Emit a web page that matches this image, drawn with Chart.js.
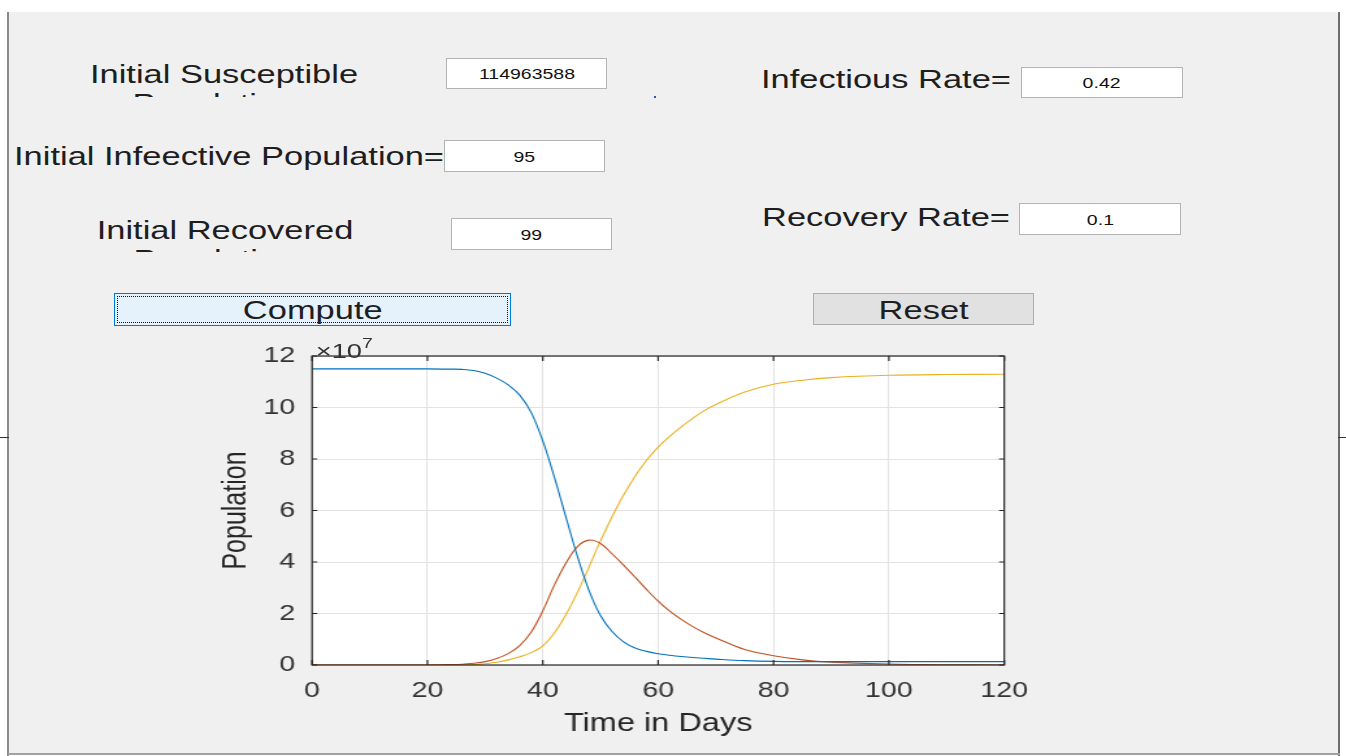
<!DOCTYPE html>
<html>
<head>
<meta charset="utf-8">
<script src="https://cdn.jsdelivr.net/npm/chart.js@4.4.1/dist/chart.umd.min.js"></script>
<style>
html,body{margin:0;padding:0;width:1346px;height:756px;overflow:hidden;background:#fff;font-family:"Liberation Sans",Arial,sans-serif;}
#panel{position:absolute;left:8px;top:12px;width:1331px;height:741px;background:#f0f0f0;}
.ln{position:absolute;background:#808080;}
.lbl{position:absolute;overflow:hidden;color:#1e1e1e;font-size:26.5px;line-height:29px;white-space:nowrap;}
.lbl .t{position:absolute;top:0;left:50%;text-align:center;transform:translateX(-50%) scaleX(1.3);}
.box{position:absolute;box-sizing:border-box;background:#fff;border:1px solid #b4b4b4;display:flex;align-items:center;justify-content:center;font-size:15px;color:#111;}
.box span,.btn span{display:inline-block;transform:scaleX(1.3);}
.btn{position:absolute;box-sizing:border-box;display:flex;justify-content:center;align-items:flex-start;font-size:26.5px;line-height:29px;color:#1e1e1e;}
#cw{position:absolute;left:200px;top:328px;width:650px;height:420px;transform:scaleX(1.3);transform-origin:0 0;}
#expo{position:absolute;left:89px;top:6px;font-size:21px;line-height:21px;color:#333;white-space:nowrap;}
#expo sup{font-size:15px;position:relative;top:-2px;}
</style>
</head>
<body>
<div id="panel"></div>
<div class="ln" style="left:7px;top:12px;width:2px;height:744px;background:#8a8a8a"></div>
<div class="ln" style="left:1338px;top:12px;width:2px;height:744px;background:#6e6e6e"></div>
<div class="ln" style="left:8px;top:753px;width:1332px;height:2px;background:#a0a0a0"></div>
<div class="ln" style="left:0px;top:437px;width:9px;height:1px;background:#333"></div>
<div class="ln" style="left:1338px;top:437px;width:8px;height:1px;background:#333"></div>
<div class="ln" style="left:654px;top:96px;width:2px;height:2px;background:#3050c0"></div>

<div class="lbl" style="left:24px;top:60px;width:400px;height:37px"><div class="t">Initial Susceptible<br>Population=</div></div>
<div class="lbl" style="left:0px;top:142px;width:458px;height:34px"><div class="t">Initial Infeective Population=</div></div>
<div class="lbl" style="left:24px;top:216px;width:401px;height:36px"><div class="t">Initial Recovered<br>Population=</div></div>
<div class="lbl" style="left:735px;top:65px;width:301px;height:34px"><div class="t">Infectious Rate=</div></div>
<div class="lbl" style="left:735px;top:203px;width:301px;height:34px"><div class="t">Recovery Rate=</div></div>

<div class="box" style="left:446px;top:58px;width:161px;height:31px"><span>114963588</span></div>
<div class="box" style="left:444px;top:140px;width:161px;height:32px"><span>95</span></div>
<div class="box" style="left:451px;top:218px;width:161px;height:32px"><span>99</span></div>
<div class="box" style="left:1021px;top:67px;width:162px;height:31px"><span>0.42</span></div>
<div class="box" style="left:1019px;top:203px;width:162px;height:32px"><span>0.1</span></div>

<div class="btn" style="left:114px;top:293px;width:397px;height:33px;background:#e5f1fb;border:1px solid #0078d7;padding-top:2px">
  <div style="position:absolute;left:2px;top:2px;right:2px;bottom:2px;border:1px dotted #111"></div>
  <span>Compute</span></div>
<div class="btn" style="left:813px;top:293px;width:221px;height:32px;background:#e1e1e1;border:1px solid #adadad;padding-top:2px"><span>Reset</span></div>

<div id="cw"><canvas id="c"></canvas><div id="expo">×10<sup>7</sup></div></div>

<script>
// values in units of 10^7 people
const days = [0,10,20,24,26,28,30,32,34,36,38,40,42,44,46,48,50,52,54,56,58,60,62,64,66,68,70,75,80,85,90,100,110,120];
const susceptible = [11.50,11.50,11.50,11.49,11.48,11.44,11.33,11.14,10.88,10.48,9.80,8.70,7.30,5.75,4.22,2.90,1.92,1.30,0.90,0.66,0.53,0.44,0.38,0.33,0.29,0.26,0.23,0.17,0.14,0.13,0.13,0.13,0.13,0.13];
const infective = [0.00,0.00,0.00,0.015,0.03,0.07,0.13,0.25,0.44,0.75,1.28,2.10,3.10,3.95,4.60,4.85,4.72,4.32,3.88,3.41,2.93,2.48,2.09,1.77,1.49,1.25,1.05,0.60,0.36,0.20,0.11,0.04,0.01,0.00];
const recovered = [0.00,0.00,0.00,0.005,0.01,0.02,0.05,0.11,0.20,0.32,0.48,0.74,1.24,1.95,2.82,3.80,4.82,5.75,6.60,7.33,7.95,8.46,8.88,9.25,9.58,9.88,10.12,10.60,10.90,11.06,11.16,11.25,11.28,11.29];
const xTicks = {min:0, max:120, step:20};
const yTicks = {min:0, max:12, step:2};
const xTitle = 'Time in Days';
const yTitle = 'Population';

const pts = arr => days.map((d,i)=>({x:d, y:arr[i]}));

const boxPlugin = {
  id:'matlabBox',
  beforeDraw(chart){
    const {ctx, chartArea:a} = chart;
    ctx.save();
    ctx.fillStyle = '#ffffff';
    ctx.fillRect(a.left, a.top, a.right-a.left, a.bottom-a.top);
    ctx.restore();
  },
  afterDatasetsDraw(chart){
    const {ctx, chartArea:a, scales:{x,y}} = chart;
    ctx.save();
    ctx.strokeStyle = '#262626';
    ctx.lineWidth = 1.2;
    ctx.strokeRect(a.left, a.top, a.right-a.left, a.bottom-a.top);
    ctx.beginPath();
    x.ticks.forEach(t=>{
      const p = x.getPixelForValue(t.value);
      ctx.moveTo(p, a.bottom); ctx.lineTo(p, a.bottom-5);
      ctx.moveTo(p, a.top); ctx.lineTo(p, a.top+5);
    });
    y.ticks.forEach(t=>{
      const p = y.getPixelForValue(t.value);
      ctx.moveTo(a.left, p); ctx.lineTo(a.left+4, p);
      ctx.moveTo(a.right, p); ctx.lineTo(a.right-4, p);
    });
    ctx.stroke();
    ctx.restore();
  }
};

Chart.defaults.font.family = '"Liberation Sans", Arial, sans-serif';
new Chart(document.getElementById('c'), {
  type:'line',
  data:{datasets:[
    {label:'S', data:pts(susceptible), borderColor:'#0072BD', borderWidth:1.1},
    {label:'I', data:pts(infective), borderColor:'#C0501E', borderWidth:1.1},
    {label:'R', data:pts(recovered), borderColor:'#EDB120', borderWidth:1.1}
  ]},
  options:{
    responsive:true, maintainAspectRatio:false, animation:false,
    devicePixelRatio:1,
    layout:{padding:{top:28, right:30, left:0, bottom:0}},
    elements:{point:{radius:0}, line:{tension:0.35, fill:false}},
    plugins:{legend:{display:false}, tooltip:{enabled:false}},
    scales:{
      x:{type:'linear', min:xTicks.min, max:xTicks.max,
         ticks:{stepSize:xTicks.step, padding:13, color:'#333', font:{size:22}},
         grid:{color:'#e3e3e3', drawTicks:false}, border:{display:false},
         title:{display:true, text:xTitle, color:'#262626', font:{size:25}, padding:{top:0,bottom:9}},
         afterFit(s){ s.height = 83; }},
      y:{type:'linear', min:yTicks.min, max:yTicks.max,
         ticks:{stepSize:yTicks.step, padding:13, color:'#333', font:{size:22}},
         grid:{color:'#e3e3e3', drawTicks:false}, border:{display:false},
         title:{display:true, text:yTitle, color:'#262626', font:{size:25}, padding:{top:13,bottom:0}},
         afterFit(s){ s.width = 86.2; }}
    }
  },
  plugins:[boxPlugin]
});
</script>
</body>
</html>
